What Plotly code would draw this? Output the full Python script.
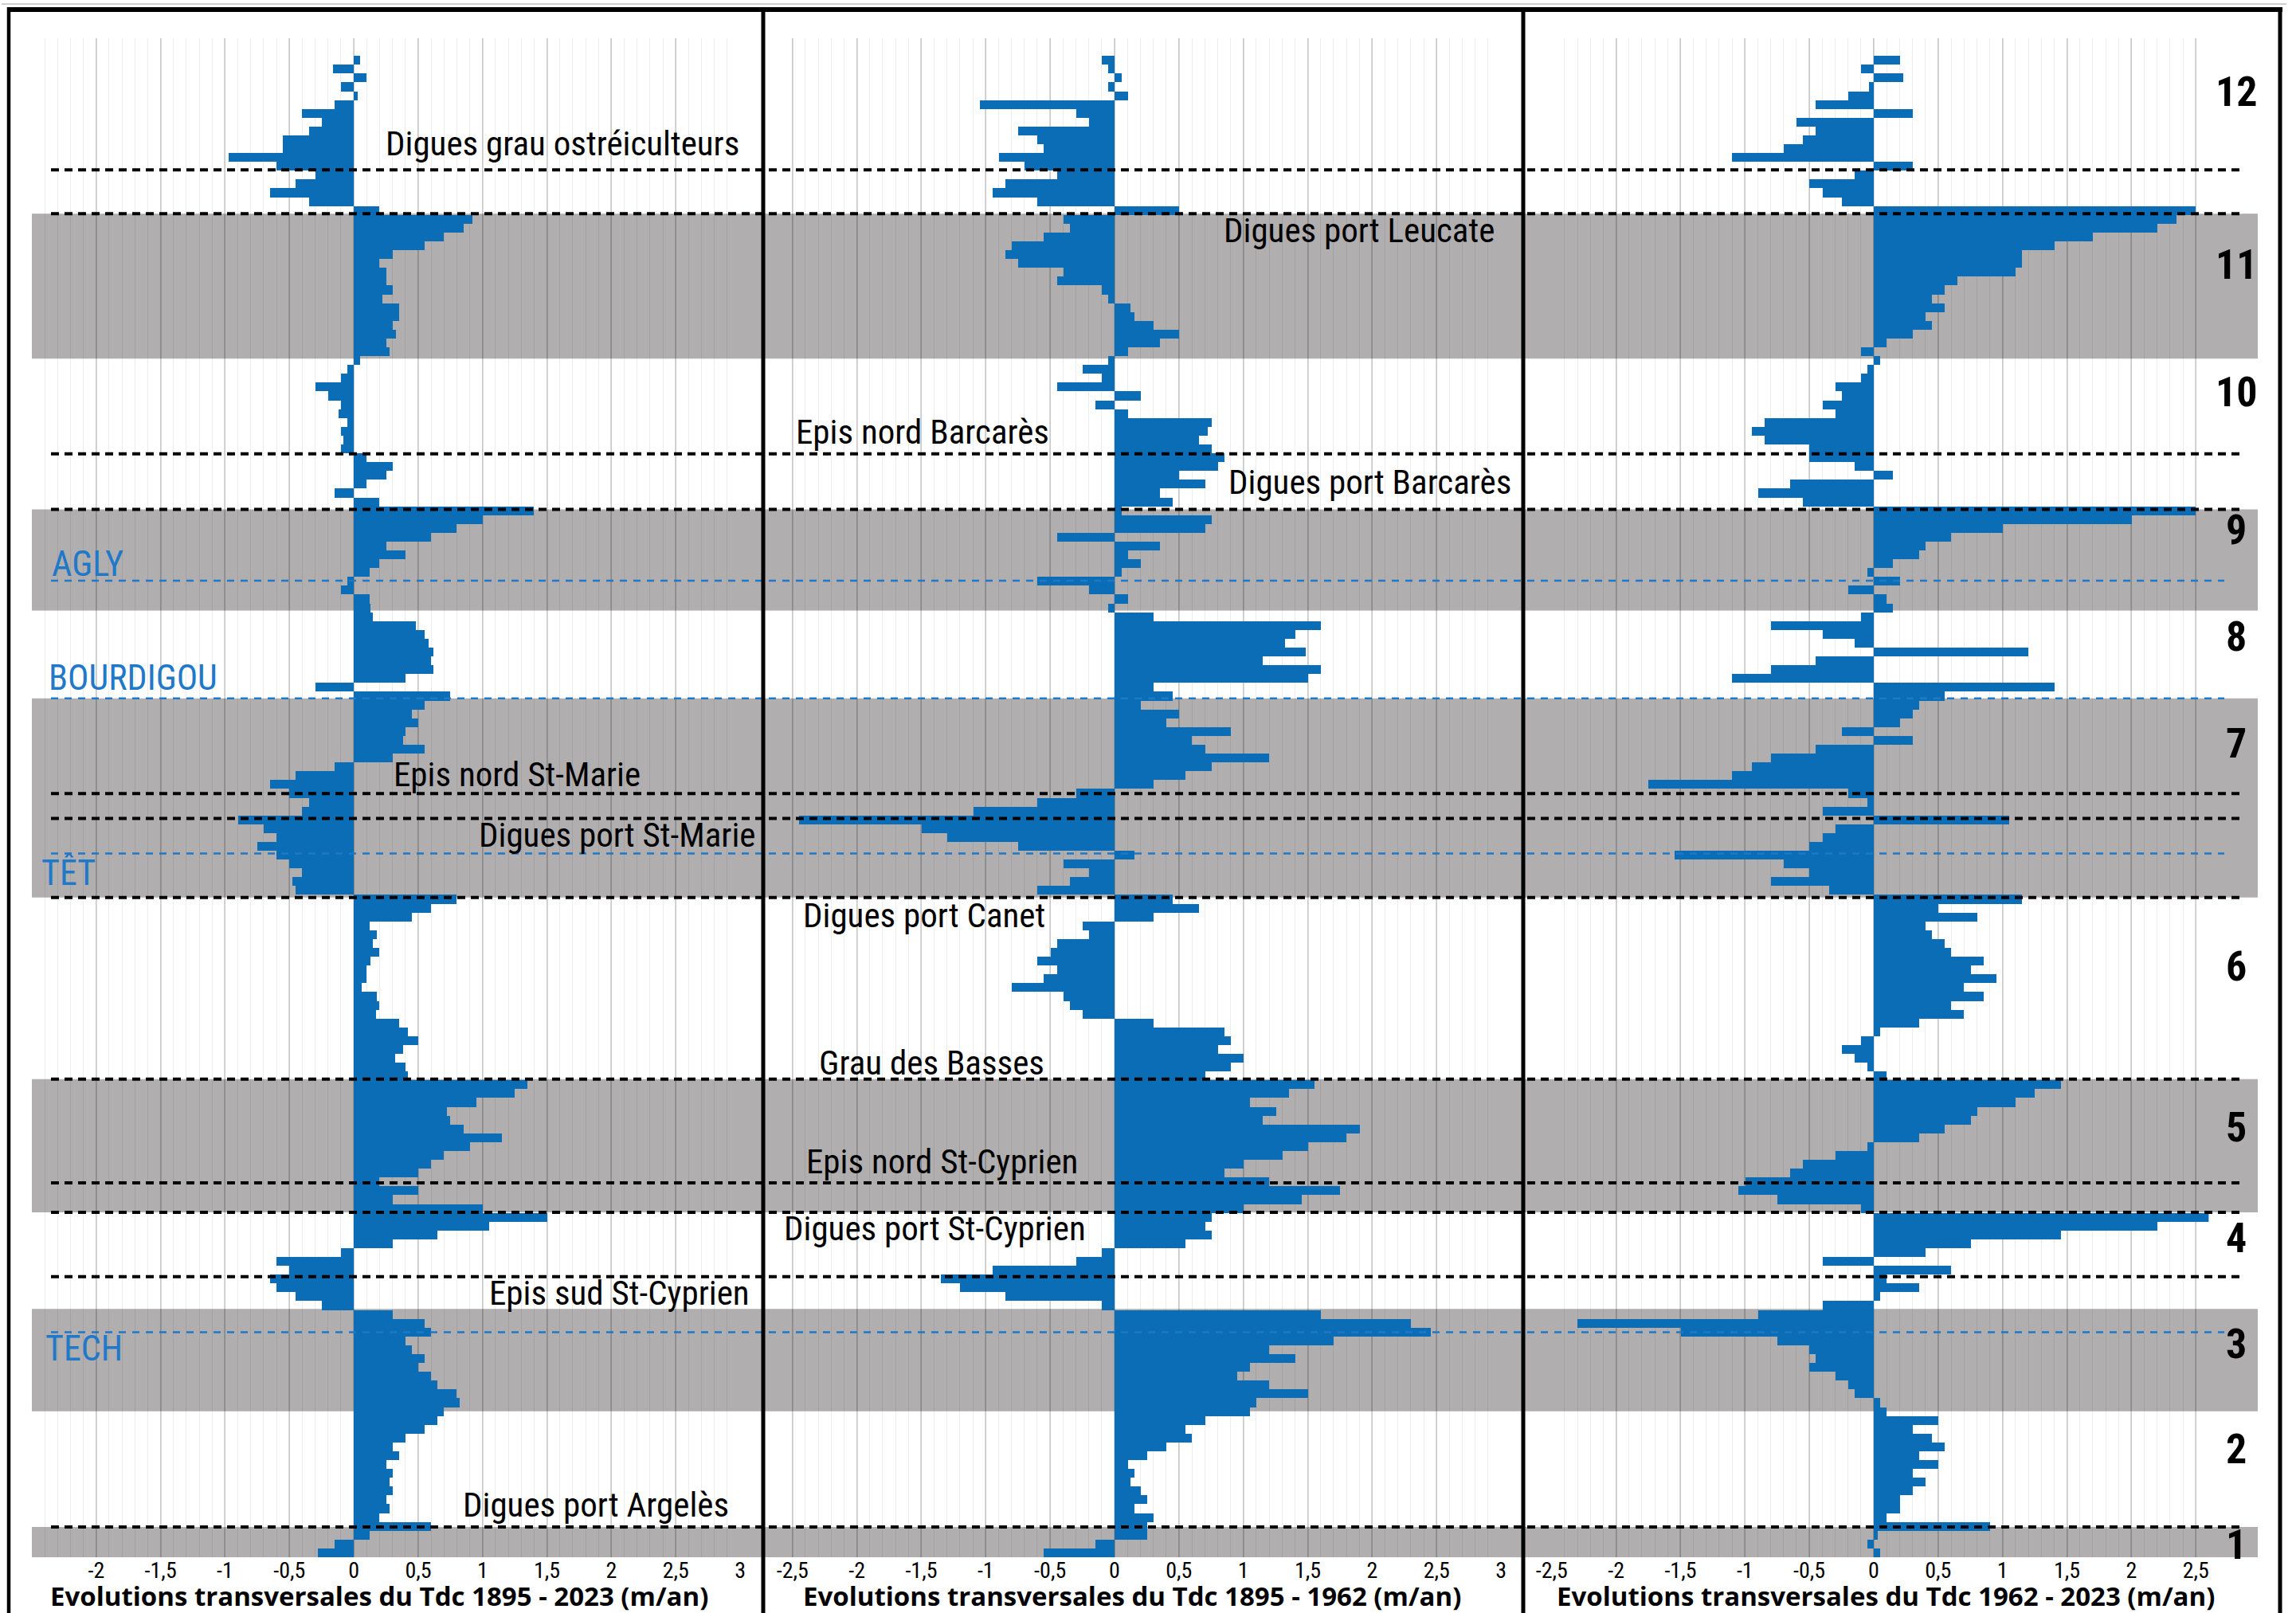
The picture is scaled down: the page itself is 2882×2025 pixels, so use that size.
import plotly.graph_objects as go

# ---------------- data (profile 1 = south / bottom, 170 = north / top) ----------------
profiles = list(range(1, 171))

p1895_2023 = [
    -0.28, -0.15, 0.12, 0.6, 0.2, 0.28, 0.25, 0.3, 0.28, 0.3,
    0.25, 0.35, 0.3, 0.4, 0.55, 0.65, 0.7, 0.82, 0.8, 0.65,
    0.6, 0.5, 0.55, 0.45, 0.4, 0.6, 0.55, 0.3, -0.25, -0.45,
    -0.6, -0.65, -0.5, -0.6, -0.1, 0.3, 0.65, 1.05, 1.5, 1.0,
    0.3, 0.5, 0.2, 0.5, 0.6, 0.7, 0.9, 1.15, 0.85, 0.75,
    0.72, 0.95, 1.25, 1.35, 0.42, 0.4, 0.32, 0.38, 0.5, 0.42,
    0.35, 0.17, 0.2, 0.18, 0.06, 0.1, 0.1, 0.13, 0.2, 0.15,
    0.18, 0.12, 0.45, 0.6, 0.8, -0.45, -0.48, -0.4, -0.5, -0.6,
    -0.75, -0.6, -0.7, -0.9, -0.4, -0.35, -0.5, -0.65, -0.45, -0.15,
    0.3, 0.55, 0.38, 0.4, 0.5, 0.45, 0.55, 0.75, -0.3, 0.4,
    0.62, 0.6, 0.62, 0.58, 0.55, 0.48, 0.15, 0.13, 0.12, -0.1,
    -0.05, 0.12, 0.2, 0.4, 0.25, 0.6, 0.8, 1.0, 1.4, 0.2,
    -0.15, 0.1, 0.25, 0.3, 0.1, -0.1, -0.08, -0.1, -0.05, -0.12,
    -0.1, -0.2, -0.3, -0.1, -0.05, 0.05, 0.28, 0.25, 0.33, 0.3,
    0.35, 0.35, 0.22, 0.3, 0.25, 0.25, 0.2, 0.3, 0.55, 0.7,
    0.85, 0.92, 0.2, -0.35, -0.65, -0.45, -0.3, -0.6, -0.97, -0.55,
    -0.55, -0.35, -0.25, -0.4, -0.15, 0.03, -0.1, 0.1, -0.16, 0.05,
]

p1895_1962 = [
    -0.55, -0.15, 0.25, 0.25, 0.3, 0.15, 0.25, 0.2, 0.12, 0.15,
    0.1, 0.25, 0.4, 0.6, 0.55, 0.7, 1.05, 1.1, 1.5, 1.2,
    0.95, 1.05, 1.4, 1.2, 1.7, 2.45, 2.3, 1.6, -0.1, -0.85,
    -1.2, -1.35, -0.95, -0.3, -0.1, 0.55, 0.75, 0.7, 0.75, 1.0,
    1.45, 1.75, 1.2, 0.85, 1.0, 1.3, 1.5, 1.8, 1.9, 1.15,
    1.25, 1.05, 1.35, 1.55, 0.7, 0.9, 1.0, 0.8, 0.9, 0.85,
    0.3, -0.25, -0.35, -0.4, -0.8, -0.55, -0.45, -0.6, -0.5, -0.45,
    -0.2, -0.25, 0.3, 0.65, 0.45, -0.6, -0.35, -0.2, -0.4, 0.15,
    -0.75, -1.3, -1.5, -2.45, -1.1, -0.6, -0.3, 0.3, 0.55, 0.75,
    1.2, 0.7, 0.6, 0.9, 0.4, 0.5, 0.2, 0.45, 0.3, 1.5,
    1.6, 1.15, 1.48, 1.32, 1.4, 1.6, 0.3, -0.05, 0.1, -0.2,
    -0.6, 0.05, 0.2, 0.1, 0.35, -0.45, 0.7, 0.75, 0.05, 0.45,
    0.35, 0.7, 0.5, 0.8, 0.85, 0.75, 0.65, 0.72, 0.75, 0.1,
    -0.15, 0.2, -0.45, -0.1, -0.25, -0.05, 0.1, 0.35, 0.5, 0.3,
    0.15, 0.12, -0.05, -0.1, -0.45, -0.4, -0.75, -0.85, -0.8, -0.55,
    -0.35, -0.4, 0.5, -0.6, -0.95, -0.85, -0.45, -0.7, -0.9, -0.55,
    -0.6, -0.75, -0.2, -0.3, -1.05, 0.1, -0.05, 0.05, -0.05, -0.1,
]

p1962_2023 = [
    0.05, -0.05, 0.03, 0.9, 0.1, 0.2, 0.2, 0.3, 0.4, 0.3,
    0.5, 0.35, 0.55, 0.45, 0.3, 0.5, 0.1, 0.05, -0.15, -0.2,
    -0.3, -0.5, -0.45, -0.5, -0.75, -1.5, -2.3, -0.9, -0.4, 0.05,
    0.35, 0.1, 0.6, -0.4, 0.4, 0.75, 1.45, 2.2, 2.75, -0.1,
    -0.75, -1.05, -1.0, -0.65, -0.55, -0.3, -0.05, 0.35, 0.55, 0.75,
    0.8, 1.1, 1.25, 1.45, 0.1, -0.05, -0.15, -0.25, -0.1, 0.05,
    0.35, 0.7, 0.6, 0.85, 0.7, 0.95, 0.75, 0.85, 0.6, 0.55,
    0.45, 0.4, 0.8, 0.5, 1.15, -0.35, -0.8, -0.5, -0.7, -1.55,
    -0.5, -0.4, -0.3, 1.05, -0.4, -0.05, -0.2, -1.75, -1.1, -0.95,
    -0.8, -0.45, 0.3, -0.25, 0.2, 0.3, 0.35, 0.55, 1.4, -1.1,
    -0.8, -0.45, 1.2, -0.15, -0.4, -0.8, -0.1, 0.15, 0.1, -0.2,
    0.2, -0.05, 0.15, 0.35, 0.4, 0.6, 1.0, 2.0, 2.5, -0.55,
    -0.9, -0.65, 0.15, -0.15, -0.5, -0.5, -0.85, -0.95, -0.85, -0.3,
    -0.4, -0.25, -0.3, -0.1, -0.05, 0.05, -0.1, 0.1, 0.3, 0.45,
    0.4, 0.55, 0.45, 0.55, 0.65, 1.1, 1.15, 1.15, 1.4, 1.7,
    2.2, 2.35, 2.5, -0.25, -0.4, -0.5, -0.15, 0.3, -1.1, -0.7,
    -0.55, -0.45, -0.6, 0.3, -0.45, -0.2, -0.04, 0.23, -0.1, 0.2,
]

panel_titles = [
    "Evolutions transversales du Tdc 1895 - 2023 (m/an)",
    "Evolutions transversales du Tdc 1895 - 1962 (m/an)",
    "Evolutions transversales du Tdc 1962 - 2023 (m/an)",
]

# hydro-sedimentary cells shaded in grey (profile-axis bounds)
grey_cells = [(135.71, 152.13), (107.2, 118.64), (74.71, 97.25),
              (39.06, 54.15), (16.52, 28.12), (-0.2, 3.42)]
cell_numbers = ["12", "11", "10", "9", "8", "7", "6", "5", "4", "3", "2", "1"]
cell_number_pos = [165.9, 146.3, 131.9, 116.3, 104.2, 92.1, 66.9, 48.7, 36.1, 24.15, 12.2, 1.43]

# coastal structures (black dashed) and river mouths (blue dashed)
structure_pos = [157.1, 152.13, 124.94, 118.64, 86.48, 83.66, 74.71,
                 54.15, 42.38, 39.06, 31.77, 3.42]
structure_labels = [
    ("Digues grau ostréiculteurs", 706, 160.08),
    ("Digues port Leucate", 1706, 150.3),
    ("Epis nord Barcarès", 1158, 127.43),
    ("Digues port Barcarès", 1719, 121.79),
    ("Epis nord St-Marie", 649, 88.63),
    ("Digues port St-Marie", 774, 81.84),
    ("Digues port Canet", 1160, 72.72),
    ("Grau des Basses", 1169, 56.0),
    ("Epis nord St-Cyprien", 1182, 44.87),
    ("Digues port St-Cyprien", 1173, 37.24),
    ("Epis sud St-Cyprien", 777, 29.94),
    ("Digues port Argelès", 748, 5.91),
]
rivers = ["AGLY", "BOURDIGOU", "TÊT", "TECH"]
river_pos = [110.58, 97.25, 79.68, 25.47]
river_label_x = [110, 167, 86, 105]
river_label_y = [112.5, 99.6, 77.5, 23.6]

# ---------------- figure ----------------
W, H = 2882, 2025
BLUE = "#0a6db6"
COND = "Liberation Sans Narrow, Arial Narrow, Roboto Condensed, Open Sans, sans-serif"


def px(x):
    return x / W


fig = go.Figure()
series = [p1895_2023, p1895_1962, p1962_2023]
xa = ["x", "x2", "x3"]
for s, ax in zip(series, xa):
    fig.add_trace(go.Bar(
        x=s, y=[p - 0.5 for p in profiles], orientation="h",
        xaxis=ax, yaxis="y", width=1.0,
        marker=dict(color=BLUE, line=dict(width=0)),
        showlegend=False, hoverinfo="x+y",
    ))


def tickset(lo, hi, labelled):
    vals, txt = [], []
    v = lo
    while v <= hi + 1e-9:
        vals.append(round(v, 2))
        lab = ("%g" % round(v, 2)).replace(".", ",")
        txt.append(lab if round(v, 2) in labelled else "")
        v += 0.5
    return vals, txt


ranges = [(-2.5, 3.0), (-2.6, 3.0), (-2.5, 2.6)]
domains = [(40, 929.1), (978.6, 1884.1), (1947.75, 2772.4)]
labelled = [
    [-2, -1.5, -1, -0.5, 0, 0.5, 1, 1.5, 2, 2.5, 3],
    [-2.5, -2, -1.5, -1, -0.5, 0, 0.5, 1, 1.5, 2, 2.5, 3],
    [-2.5, -2, -1.5, -1, -0.5, 0, 0.5, 1, 1.5, 2, 2.5],
]
axcfg = {}
for i in range(3):
    vals, txt = tickset(-2.5, ranges[i][1], labelled[i])
    key = "xaxis" if i == 0 else "xaxis%d" % (i + 1)
    axcfg[key] = dict(
        domain=[px(domains[i][0]), px(domains[i][1])],
        range=list(ranges[i]), anchor="y", automargin=False,
        tickmode="array", tickvals=vals, ticktext=txt,
        showgrid=True, gridcolor="rgba(0,0,0,0.15)", gridwidth=2,
        minor=dict(tickmode="linear", tick0=0, dtick=0.1, showgrid=True,
                   gridcolor="rgba(0,0,0,0.07)", gridwidth=1),
        zeroline=False, showline=False, ticks="", ticklabelstandoff=-3,
        tickfont=dict(family=COND, size=28, color="black"),
        fixedrange=True,
    )

fig.update_layout(
    width=W, height=H, autosize=False,
    margin=dict(l=0, r=0, t=0, b=0, pad=0, autoexpand=False),
    paper_bgcolor="white", plot_bgcolor="rgba(0,0,0,0)",
    barmode="overlay", bargap=0,
    yaxis=dict(domain=[1 - 1955 / H, 1 - 48 / H], range=[0, 172], automargin=False,
               showgrid=False, zeroline=False, showticklabels=False,
               ticks="", fixedrange=True, title=dict(text="")),
    **axcfg,
)

# grey cells
for y0, y1 in grey_cells:
    fig.add_shape(type="rect", xref="paper", yref="y",
                  x0=px(40), x1=px(2834), y0=y0, y1=y1,
                  fillcolor="#b0aeaf", line=dict(width=0), layer="below")

# structures
for yv in structure_pos:
    fig.add_shape(type="line", xref="paper", yref="y",
                  x0=px(64), x1=px(2816), y0=yv, y1=yv,
                  line=dict(color="black", width=4, dash="10px,7px"), layer="above")
for yv in river_pos:
    fig.add_shape(type="line", xref="paper", yref="y",
                  x0=px(64), x1=px(2792), y0=yv, y1=yv,
                  line=dict(color="#1f78c8", width=2.5, dash="9px,8px"), layer="above")

# frame and separators
fig.add_shape(type="line", xref="paper", yref="paper", x0=px(2), x1=px(2870),
              y0=1 - 5 / H, y1=1 - 5 / H, line=dict(color="#bdbdbd", width=1.5), layer="above")
fig.add_shape(type="line", xref="paper", yref="paper", x0=px(9), x1=px(2865),
              y0=1 - 12 / H, y1=1 - 12 / H, line=dict(color="black", width=6), layer="above")
for xs, wd in [(11, 4.5), (958, 5), (1912, 5), (2862, 5)]:
    fig.add_shape(type="line", xref="paper", yref="paper", x0=px(xs), x1=px(xs),
                  y0=0, y1=1 - 9 / H, line=dict(color="black", width=wd), layer="above")

# labels
for txt, xf, yv in structure_labels:
    fig.add_annotation(x=px(xf), xref="paper", y=yv, yref="y", text=txt,
                       showarrow=False, xanchor="center", yanchor="middle",
                       font=dict(family=COND, size=43, color="black"))
for name, xf, yv in zip(rivers, river_label_x, river_label_y):
    fig.add_annotation(x=px(xf), xref="paper", y=yv, yref="y", text=name,
                       showarrow=False, xanchor="center", yanchor="middle",
                       font=dict(family=COND, size=44, color="#1f78c8"))
for num, yv in zip(cell_numbers, cell_number_pos):
    fig.add_annotation(x=px(2807), xref="paper", y=yv, yref="y", text="<b>%s</b>" % num,
                       showarrow=False, xanchor="center", yanchor="middle",
                       font=dict(family=COND, size=52, color="black"))
title_x = [476, 1421, 2367]
for t, xf in zip(panel_titles, title_x):
    fig.add_annotation(x=px(xf), xref="paper", y=1 - 2003 / H, yref="paper",
                       text="<b>%s</b>" % t, showarrow=False,
                       xanchor="center", yanchor="middle",
                       font=dict(family="Open Sans, sans-serif", size=33, color="black"))

fig.write_html(
    "out.html",
    config={"displayModeBar": False},
    post_script="document.body.style.margin='0';document.body.style.overflow='hidden';",
)
